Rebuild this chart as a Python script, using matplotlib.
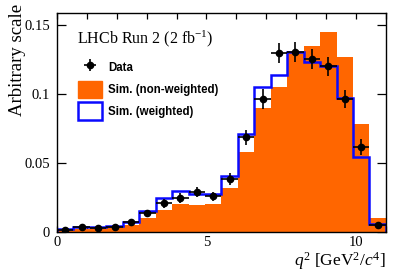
import numpy as np
import matplotlib
matplotlib.use("Agg")
import matplotlib.pyplot as plt
from matplotlib.patches import Patch
from matplotlib.ticker import MultipleLocator

# q^2 binning [GeV^2/c^4]
edges = [0.0, 0.55, 1.1, 1.65, 2.2, 2.75, 3.3, 3.85, 4.4, 4.95, 5.5,
         6.05, 6.6, 7.15, 7.7, 8.25, 8.8, 9.35, 9.9, 10.45, 11.0]

sim_nonweighted = [0.0010, 0.0020, 0.0025, 0.0030, 0.0050, 0.0101, 0.0162,
                   0.0205, 0.0193, 0.0203, 0.0319, 0.0577, 0.0899, 0.1050,
                   0.1297, 0.1350, 0.1450, 0.1270, 0.0785, 0.0101]
sim_weighted = [0.0024, 0.0034, 0.0039, 0.0046, 0.0070, 0.0155, 0.0244,
                0.0297, 0.0278, 0.0273, 0.0403, 0.0710, 0.1048, 0.1138,
                0.1302, 0.1234, 0.1205, 0.0971, 0.0541, 0.0058]
data_y = [0.0017, 0.0040, 0.0030, 0.0034, 0.0072, 0.0138, 0.0208, 0.0246,
          0.0290, 0.0258, 0.0386, 0.0688, 0.0964, 0.1297, 0.1307, 0.1254,
          0.1200, 0.0964, 0.0614, 0.0053]
data_err = [0.0012, 0.0012, 0.0012, 0.0012, 0.0018, 0.0024, 0.0034, 0.0036,
            0.0036, 0.0034, 0.0042, 0.0054, 0.0075, 0.0072, 0.0072, 0.0070,
            0.0070, 0.0066, 0.0058, 0.0015]

yticks = [0, 0.05, 0.1, 0.15]
yticklabels = ["0", "0.05", "0.1", "0.15"]
xticks = [0, 5, 10]

ORANGE = "#ff6600"
BLUE = "#0a0aff"

plt.rcParams.update({
    "font.family": ["Liberation Serif", "DejaVu Serif"],
    "mathtext.fontset": "custom",
    "mathtext.rm": "Liberation Serif",
    "mathtext.it": "Liberation Serif:italic",
    "axes.linewidth": 1.0,
})

e = np.array(edges)
centers = 0.5 * (e[:-1] + e[1:])
halfw = 0.5 * (e[1:] - e[:-1])

fig = plt.figure(figsize=(4.07, 2.76), dpi=100)
ax = fig.add_axes([0.140, 0.159, 0.808, 0.794])

ax.stairs(sim_nonweighted, edges, fill=True, color=ORANGE, zorder=1)
ax.stairs(sim_weighted, edges, color=BLUE, lw=1.8, baseline=0, zorder=2)
ax.errorbar(centers, data_y, xerr=halfw, yerr=data_err, fmt="o", ms=4.5,
            color="black", ecolor="black", elinewidth=1.2, capsize=0, zorder=3)

ax.set_xlim(0, 11)
ax.set_ylim(0, 0.1587)
ax.set_xticks(xticks)
ax.xaxis.set_minor_locator(MultipleLocator(1))
ax.set_yticks(yticks)
ax.set_yticklabels(yticklabels)
ax.tick_params(axis="both", which="both", direction="in", top=True, right=True,
               labelsize=10.5, width=0.9)
ax.tick_params(axis="x", which="both", length=4.3, pad=3)
ax.tick_params(axis="y", which="major", length=6.5, pad=5)
ax.set_axisbelow(True)

ax.set_xlabel(r"$q^2$ [GeV$^2$/$c^4$]", fontsize=12.5, ha="right")
ax.xaxis.set_label_coords(1.0, -0.083)
ax.set_ylabel("Arbitrary scale", fontsize=13.5, ha="right")
ax.yaxis.set_label_coords(-0.094, 1.04)

ax.text(0.06, 0.93, r"LHCb Run 2 (2 fb$^{\mathregular{-1}}$)", transform=ax.transAxes,
        fontsize=11.5, va="top", ha="left")

h_data = ax.errorbar([], [], xerr=[], yerr=[], fmt="o", ms=4.5, color="black",
                     elinewidth=1.2, capsize=0)
h_non = Patch(facecolor=ORANGE, edgecolor=ORANGE)
h_w = Patch(facecolor="white", edgecolor=BLUE, lw=1.8)
leg = ax.legend([h_data, h_non, h_w],
                ["Data", "Sim. (non-weighted)", "Sim. (weighted)"],
                loc="upper left", bbox_to_anchor=(0.05, 0.812), frameon=False,
                prop={"family": "Liberation Sans", "weight": "bold", "size": 8.3},
                handlelength=2.1, handleheight=2.0, labelspacing=0.35,
                handletextpad=0.5, borderaxespad=0)

fig.savefig("out.png", dpi=100)
